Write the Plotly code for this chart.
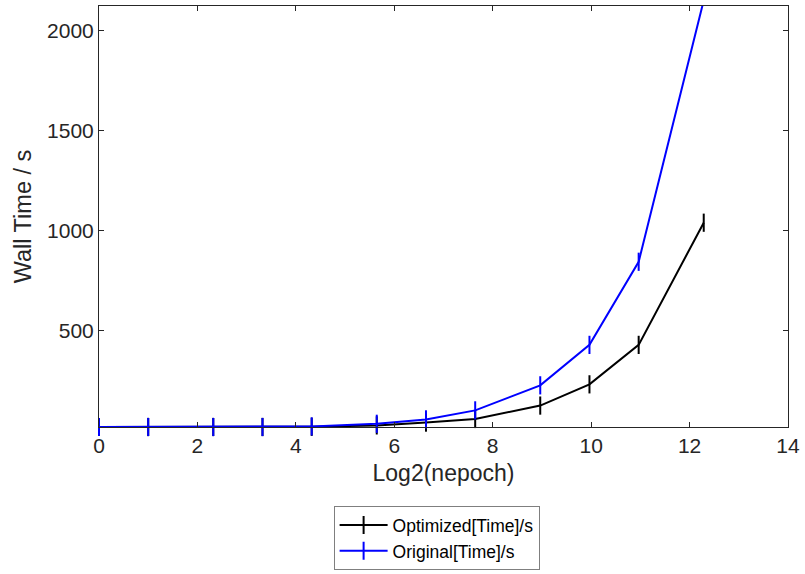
import numpy as np
import plotly.graph_objects as go

nepoch = [1, 2, 5, 10, 20, 50, 100, 200, 500, 1000, 2000, 5000]
log2_nepoch = list(np.log2(nepoch))
optimized_time = [20, 20, 20, 20, 21, 28, 42, 60, 127, 233, 430, 1040]
original_time = [20, 20, 20, 20, 23, 36, 58, 103, 228, 430, 845, 2150]

x_ticks = [0, 2, 4, 6, 8, 10, 12, 14]
y_ticks = [500, 1000, 1500, 2000]

FONT = "Liberation Sans, Arial, sans-serif"
AX = "#262626"

fig = go.Figure()
fig.add_trace(go.Scatter(
    x=log2_nepoch, y=optimized_time, name="Optimized[Time]/s",
    mode="lines+markers", cliponaxis=False,
    line=dict(color="black", width=2),
    marker=dict(symbol="line-ns-open", size=13, line=dict(color="black", width=2)),
))
fig.add_trace(go.Scatter(
    x=log2_nepoch, y=original_time, name="Original[Time]/s",
    mode="lines+markers", cliponaxis=False,
    line=dict(color="#0000ff", width=2),
    marker=dict(symbol="line-ns-open", size=13, line=dict(color="#0000ff", width=2)),
))

axis_common = dict(
    showline=True, linecolor=AX, linewidth=1, mirror="ticks",
    ticks="inside", ticklen=5, tickcolor=AX, tickwidth=1,
    showgrid=False, zeroline=False, automargin=False,
    tickfont=dict(family=FONT, size=21, color=AX),
)

fig.update_xaxes(
    range=[0, 14], tickvals=x_ticks,
    title=dict(text="Log2(nepoch)", font=dict(family=FONT, size=23, color=AX), standoff=8),
    **axis_common,
)
fig.update_yaxes(
    range=[20, 2122], tickvals=y_ticks,
    title=dict(text="Wall Time / s", font=dict(family=FONT, size=23.5, color=AX), standoff=8),
    **axis_common,
)

fig.update_layout(
    width=805, height=574,
    margin=dict(l=99, r=17, t=6, b=147, autoexpand=False),
    plot_bgcolor="white", paper_bgcolor="white",
    font=dict(family=FONT, color=AX),
    legend=dict(
        x=0.49, y=-0.188, xanchor="center", yanchor="top",
        bgcolor="white", bordercolor="#7f7f7f", borderwidth=1,
        font=dict(family=FONT, size=17.5, color="black"),
        tracegroupgap=0, itemwidth=48,
    ),
    showlegend=True,
)

fig.write_html(
    "out.html",
    config={"displayModeBar": False},
    post_script="document.body.style.margin='0';document.body.style.overflow='hidden';",
)
